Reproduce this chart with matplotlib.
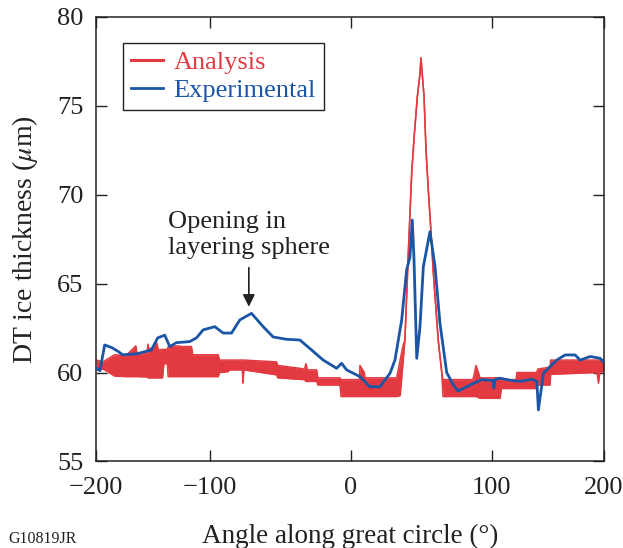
import matplotlib
matplotlib.use("Agg")
import matplotlib.pyplot as plt

plt.rcParams["font.family"] = ["Liberation Serif", "DejaVu Serif"]
plt.rcParams["mathtext.fontset"] = "stix"

RED = "#E23A40"
BLUE = "#1B55A5"
INK = "#222222"

# ---- data ---------------------------------------------------------------------
# Analysis (red): noisy trace, stored as lower / upper envelope
ana_x = [-181.0, -176.3, -168.0, -160.0, -153.0, -152.0, -145.0, -144.3, -143.5,
         -138.0, -137.0, -134.0, -133.0, -130.5, -130.0, -122.0, -121.0, -113.4,
         -112.5, -94.4, -93.5, -87.3, -86.5, -77.2, -76.7, -76.2, -52.9, -52.0,
         -33.0, -32.0, -31.0, -24.4, -23.5, -7.8, -7.0, 6.0, 6.4, 9.5, 10.0,
         32.5, 35.0, 37.0, 38.4, 40.8, 43.2, 44.8, 47.2, 49.1, 49.8, 50.7, 52.0,
         53.4, 55.0, 56.7, 58.6, 62.1, 64.6, 65.5, 86.8, 89.0, 91.8, 106.0,
         107.0, 117.4, 118.0, 132.0, 133.0, 141.6, 142.0, 175.0, 176.0, 177.0,
         180.0]
ana_lo = [60.15, 60.2, 59.8, 59.77, 59.77, 59.77, 59.75, 59.7, 59.7,
          59.7, 59.7, 59.7, 60.5, 60.5, 59.77, 59.77, 59.77, 59.77,
          59.77, 59.77, 60.0, 60.05, 60.15, 60.15, 59.4, 60.15, 59.87, 59.7,
          59.6, 59.5, 59.5, 59.5, 59.3, 59.3, 58.65, 58.65, 58.65, 58.65, 58.65,
          58.65, 58.7, 60.5, 61.83, 66.7, 71.2, 73.1, 75.5, 76.8, 77.7, 76.8, 75.5,
          72.5, 70.3, 68.2, 65.6, 61.8, 60.0, 58.65, 58.65, 58.65, 58.55, 58.55,
          59.1, 59.1, 59.1, 59.1, 59.3, 59.3, 59.9, 60.0, 59.4, 60.0,
          60.1]
ana_hi = [60.7, 60.6, 61.0, 60.95, 61.5, 61.0, 61.1, 61.6, 61.27,
          61.66, 61.27, 61.3, 61.3, 61.3, 61.46, 61.5, 61.46, 61.46,
          61.0, 61.0, 60.7, 60.7, 60.7, 60.7, 60.7, 60.7, 60.6, 60.4,
          60.2, 60.5, 60.15, 60.15, 59.7, 59.7, 59.6, 59.6, 60.4, 60.0, 59.7,
          59.7, 60.7, 61.5, 61.83, 66.7, 71.2, 73.1, 75.5, 76.8, 77.7, 76.8, 75.5,
          72.5, 70.3, 68.2, 65.6, 61.8, 60.0, 59.6, 59.6, 60.4, 59.7, 59.7,
          59.6, 59.6, 60.0, 60.0, 60.2, 60.3, 60.7, 60.7, 60.7, 60.7,
          60.7]

# Experimental (blue)
exp_x = [-181.0, -178.5, -175.1, -170.0, -165.8, -162.3, -152.5, -141.9, -137.4,
         -132.4, -128.8, -124.1, -114.6, -109.8, -105.1, -96.8, -90.9, -84.9,
         -79.0, -70.7, -62.4, -55.3, -45.8, -36.3, -28.0, -19.7, -10.2, -6.6,
         -3.1, 6.4, 13.5, 20.6, 27.8, 31.3, 36.1, 39.6, 42.0, 43.6, 44.8, 46.8,
         49.1, 51.5, 56.2, 59.8, 63.3, 68.1, 72.8, 76.3, 82.3, 84.7, 93.0,
         101.1, 101.6, 102.5, 106.0, 114.4, 120.3, 128.6, 132.2, 133.3, 136.9,
         141.6, 146.4, 152.3, 159.4, 163.0, 170.1, 177.2, 179.6]
exp_y = [60.25, 60.1, 61.55, 61.4, 61.2, 61.0, 61.05, 61.27, 61.95,
         62.1, 61.46, 61.68, 61.74, 61.95, 62.4, 62.58, 62.22, 62.22,
         62.96, 63.33, 62.58, 62.0, 61.87, 61.83, 61.27, 60.7, 60.24, 60.52,
         60.15, 59.77, 59.2, 59.2, 59.96, 60.7, 62.96, 65.77, 66.5, 68.58, 66.5, 60.8,
         62.58, 65.96, 67.92, 65.96, 62.77, 60.0, 59.3, 58.96, 59.2, 59.3, 59.6,
         59.55, 59.13, 59.6, 59.68, 59.55, 59.5, 59.62, 59.5, 57.9, 59.96,
         60.33, 60.7, 60.99, 60.99, 60.7, 60.9, 60.8, 60.6]

x_ticks = [-181.5, -100, 0, 100, 180]
x_ticklabels = ["\u2212200", "\u2212100", "0", "100", "200"]
y_ticks = [55, 60, 65, 70, 75, 80]

# ---- figure -------------------------------------------------------------------
fig = plt.figure(figsize=(6.23, 5.48), dpi=100)
ax = fig.add_axes([0.1536, 0.158, 0.816, 0.811])

ax.fill_between(ana_x, ana_lo, ana_hi, color=RED, lw=0, zorder=2)
ax.plot(ana_x, ana_lo, color=RED, lw=1.1, zorder=2)
ax.plot(ana_x, ana_hi, color=RED, lw=1.1, zorder=2)
ax.plot([], [], color=RED, lw=2.2, label="Analysis")
ax.plot(exp_x, exp_y, color=BLUE, lw=2.0, zorder=3, label="Experimental")

ax.set_xlim(-181.5, 180)
ax.set_ylim(55, 80)
ax.set_xticks(x_ticks)
ax.set_xticklabels(x_ticklabels)
ax.set_yticks(y_ticks)
ax.tick_params(direction="in", length=8, width=1.0, color=INK,
               top=True, right=True, labelsize=19, pad=9, labelcolor=INK)
ax.tick_params(axis="x", pad=11)
for s in ax.spines.values():
    s.set_linewidth(1.1)
    s.set_color(INK)

ax.set_xlabel("Angle along great circle (\u00b0)", fontsize=19.5, color=INK,
              labelpad=18)
ax.set_ylabel(r"DT ice thickness ($\mu$m)", fontsize=20, color=INK, labelpad=12)

leg = ax.legend(loc="upper left", bbox_to_anchor=(0.054, 0.9415),
                borderaxespad=0, fancybox=False, fontsize=19, handlelength=1.2,
                handletextpad=0.4, borderpad=0.3, labelspacing=0.15,
                framealpha=1, edgecolor=INK)
leg.get_frame().set_linewidth(1.0)
for t, c in zip(leg.get_texts(), [RED, BLUE]):
    t.set_color(c)

ax.text(-130, 69.1, "Opening in\nlayering sphere", fontsize=19, color=INK,
        ha="left", va="top", linespacing=1.25)
ax.annotate("", xy=(-72.6, 63.7), xytext=(-72.6, 65.9),
            arrowprops=dict(arrowstyle="-|>", color=INK, lw=1.2,
                            mutation_scale=18, shrinkA=0, shrinkB=0))

fig.text(0.013, 0.001, "G10819JR", fontsize=11.5, color=INK, ha="left",
         va="bottom")

fig.savefig("out.png", dpi=100)
